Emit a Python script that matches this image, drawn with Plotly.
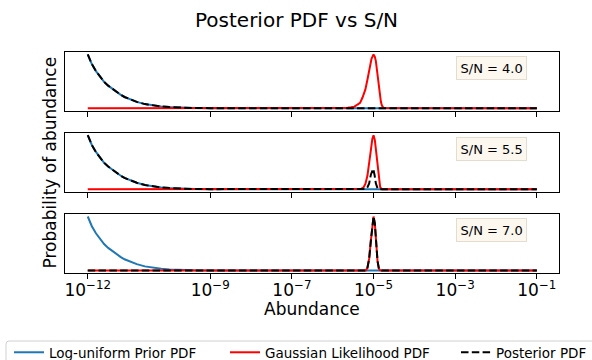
import plotly.graph_objects as go

# ---------------- data ----------------
tick_vals = [1e-12, 1e-9, 1e-7, 1e-5, 1e-3, 1e-1]
tick_text = ["10<sup>−12</sup>", "10<sup>−9</sup>", "10<sup>−7</sup>",
             "10<sup>−5</sup>", "10<sup>−3</sup>", "10<sup>−1</sup>"]

sn_labels = ["S/N = 4.0", "S/N = 5.5", "S/N = 7.0"]
legend_names = ["Log-uniform Prior PDF", "Gaussian Likelihood PDF", "Posterior PDF"]

# Log-uniform prior PDF (same in all panels, max-normalised)
prior_abund = [1e-12, 1.259e-12, 1.585e-12, 1.995e-12, 2.512e-12, 3.162e-12,
               3.981e-12, 5.012e-12, 6.310e-12, 7.943e-12, 1e-11, 1.585e-11,
               2.512e-11, 3.981e-11, 6.310e-11, 1e-10, 1.995e-10, 3.981e-10,
               1e-9, 1e-8, 1e-7, 1e-6, 1e-5, 1e-4, 1e-3, 1e-2, 1e-1]
prior_pdf = [1.0, 0.82, 0.69, 0.58, 0.49, 0.42,
             0.36, 0.30, 0.255, 0.21, 0.175, 0.12,
             0.078, 0.052, 0.034, 0.022, 0.012, 0.006,
             0.003, 0.0005, 0.0001, 0.0, 0.0, 0.0, 0.0, 0.0, 0.0]

# Gaussian likelihood PDF, S/N = 4.0
like_abund_sn40 = [1e-12, 1e-6, 1.413e-6, 1.995e-6, 2.301e-6, 2.780e-6, 3.388e-6,
                   4.046e-6, 4.677e-6, 5.370e-6, 6.310e-6, 7.079e-6, 7.816e-6,
                   8.913e-6, 1.0e-5, 1.0715e-5, 1.138e-5, 1.202e-5, 1.297e-5,
                   1.380e-5, 1.452e-5, 1.514e-5, 1.596e-5, 1.660e-5, 1.754e-5, 1e-1]
like_pdf_sn40 = [0.0, 0.0, 0.002, 0.006, 0.01, 0.018, 0.03,
                 0.07, 0.10, 0.20, 0.35, 0.53, 0.70,
                 0.92, 1.0, 0.96, 0.88, 0.72, 0.52,
                 0.33, 0.22, 0.12, 0.056, 0.025, 0.005, 0.0]

# Gaussian likelihood PDF, S/N = 5.5
like_abund_sn55 = [1e-12, 4.5e-6, 5.012e-6, 5.623e-6, 6.310e-6, 7.079e-6, 7.816e-6,
                   8.590e-6, 9.333e-6, 1.0e-5, 1.0765e-5, 1.148e-5, 1.230e-5,
                   1.297e-5, 1.380e-5, 1.452e-5, 1.585e-5, 1.698e-5, 1e-1]
like_pdf_sn55 = [0.0, 0.0, 0.01, 0.03, 0.10, 0.25, 0.45,
                 0.72, 0.93, 1.0, 0.91, 0.72, 0.46,
                 0.26, 0.11, 0.04, 0.005, 0.0, 0.0]

# Posterior bump, S/N = 5.5 (the left part follows the prior)
post_bump_abund_sn55 = [6.457e-6, 7.112e-6, 7.816e-6, 8.590e-6, 9.247e-6,
                        9.795e-6, 1.0568e-5, 1.138e-5, 1.250e-5, 1.349e-5]
post_bump_pdf_sn55 = [0.005, 0.04, 0.11, 0.27, 0.36,
                      0.38, 0.27, 0.11, 0.02, 0.0]

# Gaussian likelihood PDF, S/N = 7.0 (posterior follows it)
like_abund_sn70 = [1e-12, 5.5e-6, 6.457e-6, 7.079e-6, 7.816e-6, 8.590e-6, 9.247e-6,
                   1.0e-5, 1.0765e-5, 1.159e-5, 1.250e-5, 1.349e-5, 1.445e-5,
                   1.585e-5, 1e-1]
like_pdf_sn70 = [0.0, 0.0, 0.0, 0.05, 0.22, 0.55, 0.84,
                 1.0, 0.87, 0.50, 0.18, 0.04, 0.005,
                 0.0, 0.0]
post_left_abund_sn70 = [1e-12, 5.5e-6]
post_left_pdf_sn70 = [0.0, 0.0]

# ---------------- assemble ----------------
post55_x = [a for a in prior_abund if a < post_bump_abund_sn55[0]] + post_bump_abund_sn55 + [prior_abund[-1]]
post55_y = [p for a, p in zip(prior_abund, prior_pdf) if a < post_bump_abund_sn55[0]] + post_bump_pdf_sn55 + [prior_pdf[-1]]
post70_x = post_left_abund_sn70 + like_abund_sn70[2:]
post70_y = post_left_pdf_sn70 + like_pdf_sn70[2:]

panels = [
    (like_abund_sn40, like_pdf_sn40, prior_abund, prior_pdf),
    (like_abund_sn55, like_pdf_sn55, post55_x, post55_y),
    (like_abund_sn70, like_pdf_sn70, post70_x, post70_y),
]

W, H = 592, 360
def px_x(p):
    return p / W
def px_y(p):
    return 1 - p / H

y_domains = [
    [px_y(111.0), px_y(51.7)],
    [px_y(192.0), px_y(132.5)],
    [px_y(273.3), px_y(213.8)],
]
x_domain = [px_x(65.3), px_x(559.3)]

BLUE = "#1f77b4"
RED = "#ff0000"
LW = 2.0
FONT = "DejaVu Sans"
DASH = "7.5px,3.3px"

fig = go.Figure()
for i, (lx, ly, px_, py_) in enumerate(panels):
    sfx = "" if i == 0 else str(i + 1)
    fig.add_trace(go.Scatter(x=prior_abund, y=prior_pdf, mode="lines",
                             line=dict(color=BLUE, width=LW),
                             name=legend_names[0], showlegend=(i == 0), legend="legend",
                             xaxis="x" + sfx, yaxis="y" + sfx))
    fig.add_trace(go.Scatter(x=lx, y=ly, mode="lines",
                             line=dict(color=RED, width=LW),
                             name=legend_names[1], showlegend=(i == 0), legend="legend2",
                             xaxis="x" + sfx, yaxis="y" + sfx))
    fig.add_trace(go.Scatter(x=px_, y=py_, mode="lines",
                             line=dict(color="black", width=LW, dash=DASH),
                             name=legend_names[2], showlegend=(i == 0), legend="legend3",
                             xaxis="x" + sfx, yaxis="y" + sfx))

leg_common = dict(orientation="h", xanchor="left", yanchor="top", borderwidth=0,
                  bgcolor="rgba(0,0,0,0)", font=dict(size=13.5, family=FONT))
leg_top = 337.0
layout = dict(
    width=W, height=H,
    margin=dict(l=0, r=0, t=0, b=0, autoexpand=False),
    paper_bgcolor="white", plot_bgcolor="white",
    font=dict(family=FONT, color="black"),
    showlegend=True,
    legend=dict(x=px_x(9), y=px_y(leg_top), **leg_common),
    legend2=dict(x=px_x(225), y=px_y(leg_top), **leg_common),
    legend3=dict(x=px_x(456), y=px_y(leg_top), **leg_common),
    shapes=[dict(type="path", xref="paper", yref="paper",
                 path=f"M {px_x(6)},{px_y(370)} L {px_x(6)},{px_y(344)} "
                      f"Q {px_x(6)},{px_y(341)} {px_x(9)},{px_y(341)} "
                      f"L {px_x(640)},{px_y(341)}",
                 line=dict(color="#d0d0d0", width=1), layer="below")],
)
for i in range(3):
    sfx = "" if i == 0 else str(i + 1)
    layout["xaxis" + sfx] = dict(
        type="log", range=[-12.55, -0.45], domain=x_domain, anchor="y" + sfx,
        tickvals=tick_vals, ticktext=tick_text, showticklabels=(i == 2),
        ticks="outside", ticklen=5, tickwidth=1.1, tickcolor="black",
        tickfont=dict(size=17, family=FONT), ticklabelstandoff=-4,
        showline=True, mirror=True, linecolor="black", linewidth=1.1,
        showgrid=False, zeroline=False,
    )
    layout["yaxis" + sfx] = dict(
        range=[-0.05, 1.05], domain=y_domains[i], anchor="x" + sfx,
        showticklabels=False, ticks="",
        showline=True, mirror=True, linecolor="black", linewidth=1.1,
        showgrid=False, zeroline=False,
    )
fig.update_layout(**layout)

annotations = [
    dict(text="Posterior PDF vs S/N", x=0.5, y=px_y(19.5), xref="paper", yref="paper",
         xanchor="center", yanchor="middle",
         showarrow=False, font=dict(size=20, family=FONT)),
    dict(text="Abundance", x=(x_domain[0] + x_domain[1]) / 2, y=px_y(309), xref="paper", yref="paper",
         xanchor="center", yanchor="middle",
         showarrow=False, font=dict(size=17, family=FONT)),
    dict(text="Probability of abundance", x=px_x(50), y=px_y(162.5), xref="paper", yref="paper",
         xanchor="center", yanchor="middle",
         showarrow=False, textangle=-90, font=dict(size=17, family=FONT)),
]
for i, lab in enumerate(sn_labels):
    sfx = "" if i == 0 else str(i + 1)
    annotations.append(dict(
        text=lab, x=0.863, y=0.72, xref="x" + sfx + " domain", yref="y" + sfx + " domain",
        xanchor="center", yanchor="middle",
        showarrow=False, font=dict(size=13, family=FONT),
        bgcolor="#fcf8f0", bordercolor="#e3dccf", borderwidth=1, borderpad=3.5,
    ))
fig.update_layout(annotations=annotations)

fig.write_html("out.html")
